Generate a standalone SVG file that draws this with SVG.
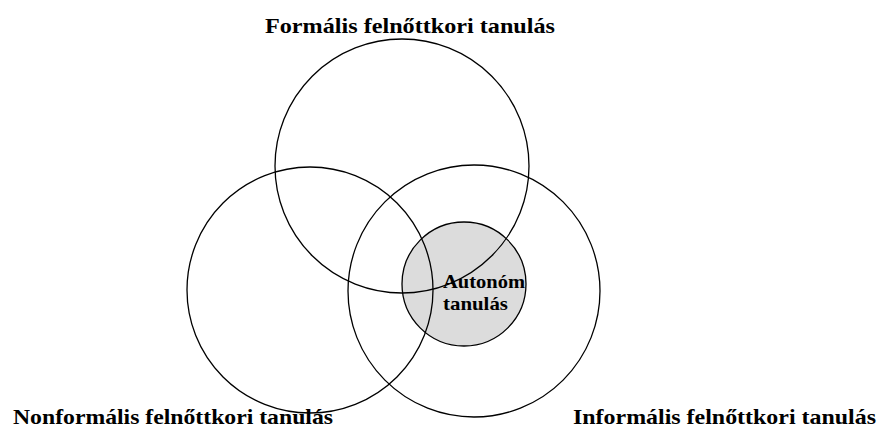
<svg xmlns="http://www.w3.org/2000/svg" width="879" height="429" viewBox="0 0 879 429">
<style>
.c{fill:none;stroke:#000;stroke-width:1.3}
.t{font-family:"Liberation Serif","Times New Roman",serif;font-weight:bold;fill:#000}
</style>
<rect width="879" height="429" fill="#fff"/>
<g id="nodes">
<g id="autonom"><circle cx="464" cy="284" r="62" fill="#dcdcdc" stroke="#000" stroke-width="1.3"/></g>
<g id="formalis"><circle class="c" cx="402" cy="166" r="127"/><text class="t" x="265" y="33" font-size="22" textLength="290" lengthAdjust="spacingAndGlyphs">Formális felnőttkori tanulás</text></g>
<g id="nonformalis"><circle class="c" cx="310" cy="290" r="123"/><text class="t" x="13" y="424" font-size="21" textLength="320" lengthAdjust="spacingAndGlyphs">Nonformális felnőttkori tanulás</text></g>
<g id="informalis"><circle class="c" cx="474" cy="291" r="126"/><text class="t" x="573" y="424" font-size="21" textLength="303" lengthAdjust="spacingAndGlyphs">Informális felnőttkori tanulás</text></g>
<g id="autonom-label"><text class="t" font-size="19"><tspan x="443" y="288" textLength="82" lengthAdjust="spacingAndGlyphs">Autonóm</tspan><tspan x="443" y="310" textLength="65" lengthAdjust="spacingAndGlyphs">tanulás</tspan></text></g>
</g>
<g id="connectors"></g>
</svg>
